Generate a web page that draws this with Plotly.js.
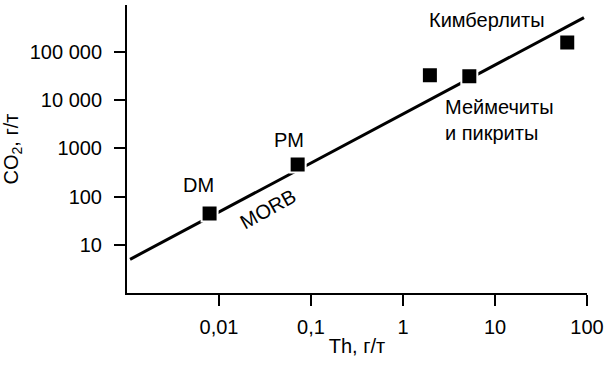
<!DOCTYPE html>
<html>
<head>
<meta charset="utf-8">
<script src="https://cdn.plot.ly/plotly-3.0.1.min.js"></script>
<style>html,body{margin:0;padding:0;background:#fff;}#chart{width:615px;height:369px;}</style>
</head>
<body>
<div id="chart"></div>
<script>
// Data points (Th, CO2)
const pointTh = [0.0079, 0.0716, 1.96, 5.26, 61];
const pointCO2 = [44.7, 462, 32600, 31100, 155000];
// Trend line endpoints
const lineTh = [0.00108, 92.7];
const lineCO2 = [4.99, 510000];
// Tick labels
const xTickVals = [0.01, 0.1, 1, 10, 100];
const xTickText = ["0,01", "0,1", "1", "10", "100"];
const yTickVals = [10, 100, 1000, 10000, 100000];
const yTickText = ["10", "100", "1000", "10 000", "100 000"];

const FONT = "Liberation Sans, Arial, Helvetica, sans-serif";
const FS = 20;

const traces = [
  {x: lineTh, y: lineCO2, mode: "lines", line: {color: "#000", width: 3}, hoverinfo: "skip"},
  {x: pointTh, y: pointCO2, mode: "markers",
   marker: {symbol: "square", size: 16, color: "#000", line: {color: "#fff", width: 2}}}
];

const ann = (x, y, text, extra) => Object.assign({x: x, y: y, xref: "x", yref: "y", text: text, showarrow: false,
  font: {family: FONT, size: FS, color: "#000"}}, extra || {});

const layout = {
  width: 615, height: 369,
  margin: {l: 127, r: 28, t: 5, b: 76},
  paper_bgcolor: "#fff", plot_bgcolor: "#fff",
  showlegend: false,
  font: {family: FONT, size: FS, color: "#000"},
  xaxis: {
    type: "log", range: [-3, 2],
    tickvals: xTickVals, ticktext: xTickText,
    ticks: "outside", ticklen: 11, tickwidth: 2, tickcolor: "#000",
    showline: true, linewidth: 2, linecolor: "#000",
    showgrid: false, zeroline: false,
    ticklabelstandoff: 4,
    title: {text: "Th, г/т", font: {family: FONT, size: FS}, standoff: 2}
  },
  yaxis: {
    type: "log", range: [0, 5.97],
    tickvals: yTickVals, ticktext: yTickText,
    ticks: "outside", ticklen: 11, tickwidth: 2, tickcolor: "#000",
    showline: true, linewidth: 2, linecolor: "#000",
    showgrid: false, zeroline: false,
    ticklabelstandoff: 8,
    title: {text: "CO<sub>2</sub>, г/т", font: {family: FONT, size: FS}, standoff: 6}
  },
  annotations: [
    ann(-2.228, 2.246, "DM"),
    ann(-1.234, 3.178, "PM"),
    ann(-1.467, 1.739, "MORB", {textangle: -29}),
    ann(0.913, 5.652, "Кимберлиты"),
    ann(0.435, 3.582, "Меймечиты<br>и пикриты", {xanchor: "left", align: "left"})
  ]
};

Plotly.newPlot("chart", traces, layout, {displayModeBar: false, staticPlot: true});
</script>
</body>
</html>
